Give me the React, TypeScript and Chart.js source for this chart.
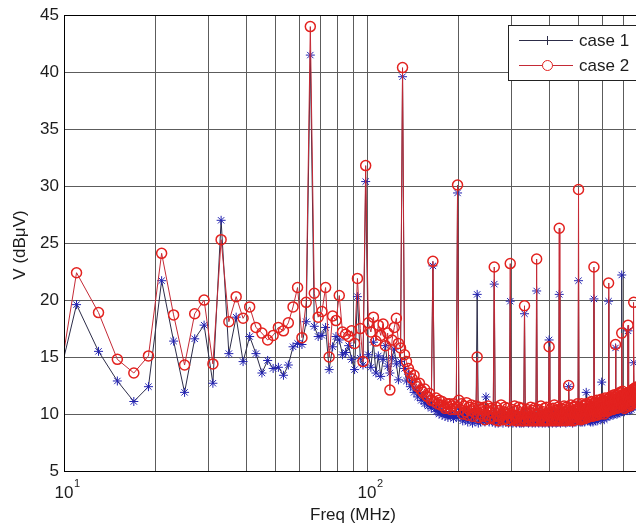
import React, { useEffect, useRef } from "react";
import { Chart, registerables } from "chart.js";

Chart.register(...registerables);

// Spectrum sampling grid (MHz): odd frequencies from 9 MHz upward in 2 MHz steps
const FREQ_START_MHZ = 9;
const FREQ_STEP_MHZ = 2;

// Measured level, case 1 (dBµV), one value per sampled frequency
const case1Db: number[] = [
  // 9 .. 33 MHz
  9.9, 19.6, 15.5, 12.9, 11.1, 12.4, 21.7, 16.4, 11.9, 16.6, 17.8, 12.7, 27.0,
  // 35 .. 99 MHz
  15.3, 18.5, 14.6, 16.8, 15.3, 13.6, 14.7, 14.0, 14.1, 13.4,
  14.3, 15.9, 16.2, 16.1, 18.1, 41.5, 17.7, 16.8, 16.9, 17.6,
  13.9, 15.9, 16.8, 16.5, 15.2, 15.4, 16.0, 14.8, 13.9, 20.3,
  14.9, 14.3, 30.4,
  // 101 .. 199 MHz
  15.2, 14.1, 16.3, 13.6, 15.1, 13.3, 14.8, 16.0, 14.2, 13.6,
  14.9, 15.7, 14.4, 13.0, 14.6, 39.6, 14.0, 12.9, 13.5, 12.4,
  12.8, 11.9, 12.2, 11.5, 11.9, 11.2, 11.5, 10.9, 11.3, 10.7,
  11.0, 10.5, 23.0, 10.6, 10.2, 10.5, 10.0, 10.3, 9.9, 10.2,
  9.8, 10.1, 9.7, 10.0, 9.8, 10.1, 9.6, 9.9, 9.7, 29.4,
  // 201 .. 785 MHz
  10.5, 9.7, 10.2, 9.4, 10.0, 9.5, 10.3, 9.3, 9.9, 9.6,
  10.0, 9.2, 9.8, 9.4, 10.1, 20.5, 9.2, 9.9, 9.3, 9.7,
  9.4, 10.0, 9.3, 11.5, 9.5, 10.1, 9.3, 9.8, 9.9, 9.3,
  9.9, 21.4, 9.2, 10.0, 9.4, 9.2, 9.8, 9.3, 10.1, 9.5,
  9.2, 9.7, 10.0, 9.3, 9.6, 9.9, 9.2, 9.7, 19.9, 9.3,
  9.8, 9.2, 9.5, 10.1, 9.3, 9.2, 9.8, 9.4, 10.0, 9.2,
  9.6, 9.2, 9.9, 9.3, 9.2, 18.8, 9.7, 9.3, 9.9, 9.3,
  9.2, 9.8, 9.3, 10.0, 9.4, 9.2, 9.8, 9.3, 9.9, 9.2,
  9.5, 20.8, 9.3, 9.9, 9.2, 9.7, 9.3, 10.1, 9.4, 9.2,
  9.8, 9.3, 9.9, 9.2, 9.5, 10.0, 9.3, 9.7, 9.2, 16.5,
  9.4, 9.9, 9.3, 9.8, 9.2, 9.9, 9.3, 10.2, 9.3, 9.6,
  9.2, 9.9, 9.3, 10.0, 9.3, 20.5, 9.7, 9.2, 9.9, 9.4,
  9.3, 9.9, 9.4, 10.1, 9.3, 9.8, 9.2, 10.0, 9.5, 9.3,
  9.9, 12.4, 9.3, 9.9, 9.3, 10.2, 9.4, 9.8, 9.2, 10.0,
  9.5, 9.3, 10.1, 9.6, 9.3, 9.9, 9.4, 10.3, 9.6, 21.7,
  9.7, 10.1, 9.3, 9.9, 9.3, 10.3, 9.5, 9.3, 10.1, 9.6,
  9.9, 9.3, 10.2, 9.6, 11.9, 9.8, 10.3, 9.4, 10.0, 9.5,
  10.0, 9.4, 10.3, 9.3, 9.8, 10.4, 9.4, 10.0, 9.3, 10.2,
  20.1, 9.5, 10.3, 9.4, 10.1, 9.6, 10.5, 9.4, 10.0, 10.3,
  9.6, 10.2, 10.5, 9.7, 10.3, 9.5, 10.6, 12.8, 9.8, 10.4,
  9.7, 10.5, 10.0, 9.5, 10.4, 10.7, 9.8, 10.3, 10.1, 9.7,
  10.6, 9.9, 10.4, 19.9, 9.8, 10.7, 10.2, 10.8, 9.9, 10.4,
  10.6, 10.0, 10.9, 10.2, 9.9, 10.8, 10.2, 11.0, 10.0, 10.5,
  15.8, 10.1, 10.9, 10.3, 10.0, 11.0, 10.5, 10.1, 11.1, 10.3,
  10.8, 10.1, 11.1, 10.4, 10.9, 10.2, 22.2, 10.7, 11.2, 10.3,
  10.9, 11.2, 10.4, 10.2, 11.1, 10.6, 11.3, 10.8, 10.3, 11.2,
  10.7, 11.3, 10.3, 17.3, 10.9, 11.4, 10.5, 11.1, 10.3, 11.4,
  10.8, 11.5, 10.4, 11.2, 11.6, 10.6, 11.4, 10.9, 11.7, 14.5,
  11.0, 11.6, 10.7, 11.8, 11.2, 11.7, 10.8, 11.6, 11.3, 11.9,
  11.1, 11.8, 11.4,
];

// Measured level, case 2 (dBµV)
const case2Db: number[] = [
  // 9 .. 33 MHz
  8.0, 22.4, 18.9, 14.8, 13.6, 15.1, 24.1, 18.7, 14.3, 18.8, 20.0, 14.4, 25.3,
  // 35 .. 99 MHz
  18.1, 20.3, 18.4, 19.4, 17.6, 17.1, 16.5, 16.9, 17.6, 17.3,
  18.0, 19.4, 21.1, 16.7, 19.8, 44.0, 20.6, 18.5, 19.0, 21.1,
  15.0, 18.6, 18.2, 20.4, 17.2, 17.0, 16.8, 17.3, 16.2, 21.9,
  17.5, 14.6, 31.8,
  // 101 .. 199 MHz
  18.0, 17.2, 18.5, 16.4, 17.8, 16.9, 17.9, 16.0, 17.1, 12.1,
  16.5, 17.6, 18.4, 16.2, 15.8, 40.4, 15.2, 14.6, 14.0, 13.6,
  13.1, 13.4, 12.7, 12.4, 12.7, 12.1, 11.9, 12.2, 11.6, 11.5,
  11.8, 11.2, 23.4, 11.1, 11.4, 10.9, 11.2, 10.8, 11.1, 10.7,
  10.5, 10.9, 10.6, 10.9, 10.4, 10.7, 10.9, 10.4, 10.6, 30.1,
  // 201 .. 785 MHz
  11.2, 10.4, 10.9, 10.0, 10.7, 10.2, 11.0, 9.9, 10.6, 10.3,
  10.8, 9.8, 10.5, 10.1, 10.7, 15.0, 9.7, 10.6, 10.0, 10.4,
  9.8, 10.6, 9.5, 10.3, 9.9, 10.7, 9.6, 10.2, 10.5, 9.7,
  10.4, 22.9, 9.5, 10.6, 9.8, 9.4, 10.3, 9.7, 10.8, 9.9,
  9.5, 10.2, 10.6, 9.6, 10.0, 10.5, 9.4, 10.1, 23.2, 9.6,
  10.4, 9.5, 9.9, 10.7, 9.6, 9.4, 10.3, 9.8, 10.6, 9.5,
  10.0, 9.4, 10.5, 9.7, 9.4, 19.5, 10.1, 9.5, 10.4, 9.7,
  9.4, 10.2, 9.6, 10.6, 9.8, 9.4, 10.3, 9.5, 10.5, 9.4,
  9.9, 23.6, 9.5, 10.4, 9.4, 10.1, 9.6, 10.7, 9.8, 9.4,
  10.2, 9.5, 10.5, 9.4, 9.9, 10.6, 9.5, 10.1, 9.4, 15.9,
  9.8, 10.4, 9.5, 10.2, 9.4, 10.5, 9.7, 10.8, 9.5, 10.0,
  9.4, 10.3, 9.7, 10.6, 9.5, 26.3, 10.1, 9.4, 10.5, 9.8,
  9.5, 10.4, 9.8, 10.7, 9.5, 10.2, 9.4, 10.6, 9.9, 9.5,
  10.3, 12.5, 9.6, 10.5, 9.5, 10.8, 9.7, 10.2, 9.4, 10.6,
  9.8, 9.5, 10.7, 10.0, 9.5, 10.4, 9.7, 10.9, 9.9, 29.7,
  10.1, 10.6, 9.6, 10.4, 9.5, 10.9, 9.8, 9.6, 10.7, 10.0,
  10.4, 9.6, 10.8, 9.9, 10.9, 10.2, 10.9, 9.7, 10.5, 9.8,
  10.7, 10.0, 11.0, 9.8, 10.4, 11.1, 9.9, 10.6, 9.8, 10.9,
  22.9, 10.1, 11.0, 9.9, 10.8, 10.2, 11.2, 9.9, 10.6, 11.0,
  10.1, 10.8, 11.2, 10.2, 10.9, 10.0, 11.3, 11.0, 10.3, 11.1,
  10.2, 11.2, 10.6, 10.0, 11.1, 11.4, 10.3, 11.0, 10.7, 10.2,
  11.3, 10.4, 11.0, 21.5, 10.3, 11.4, 10.8, 11.5, 10.4, 11.1,
  11.3, 10.5, 11.6, 10.9, 10.4, 11.5, 10.8, 11.7, 10.5, 11.2,
  16.1, 10.7, 11.6, 11.0, 10.5, 11.7, 11.2, 10.6, 11.8, 10.9,
  11.5, 10.6, 11.9, 11.1, 11.6, 10.8, 17.1, 11.4, 12.0, 10.9,
  11.3, 11.7, 10.8, 10.5, 11.6, 11.0, 11.8, 11.2, 10.6, 11.7,
  11.1, 11.8, 10.7, 17.8, 11.3, 11.9, 10.9, 11.6, 10.7, 11.9,
  11.2, 12.0, 10.8, 11.7, 12.1, 11.0, 11.9, 11.3, 12.2, 19.8,
  11.4, 12.1, 11.1, 12.3, 11.6, 12.2, 11.2, 12.1, 11.8, 12.4,
  11.5, 12.3, 11.9,
];

// Axis gridlines / labels
const xGridMHz: number[] = [
  10, 20, 30, 40, 50, 60, 70, 80, 90,
  100, 200, 300, 400, 500, 600, 700, 800, 900, 1000,
];
const xLabelExponents: number[] = [1, 2, 3];
const seriesNames: string[] = ["case 1", "case 2"];

const FONT = '"Liberation Sans", Arial, Helvetica, sans-serif';
const TEXT = "#1c1c1c";
const GRID = "#5c5c5c";
const CASE1_LINE = "#2c2c48";
const CASE1_MARK = "#2222b0";
const CASE2_LINE = "#c42a36";
const CASE2_MARK = "#e3221f";

const toPoints = (vals: number[]) =>
  vals.map((y, i) => ({ x: FREQ_START_MHZ + i * FREQ_STEP_MHZ, y }));

const decorPlugin = {
  id: "decor",
  afterDraw(chart: any) {
    const { ctx, chartArea: a } = chart;
    const xs = chart.scales.x;
    ctx.save();

    // axes box
    ctx.strokeStyle = "#000";
    ctx.lineWidth = 1;
    ctx.strokeRect(
      Math.round(a.left) + 0.5,
      Math.round(a.top) + 0.5,
      Math.round(a.right - a.left),
      Math.round(a.bottom - a.top)
    );

    // decade labels 10^n
    ctx.fillStyle = TEXT;
    for (const e of xLabelExponents) {
      const px = xs.getPixelForValue(Math.pow(10, e));
      ctx.font = `17px ${FONT}`;
      ctx.textAlign = "center";
      ctx.textBaseline = "alphabetic";
      ctx.fillText("10", px, 498);
      ctx.font = `11px ${FONT}`;
      ctx.textAlign = "left";
      ctx.fillText(String(e), px + 10, 487);
    }

    // axis titles
    ctx.font = `17px ${FONT}`;
    ctx.textAlign = "center";
    ctx.textBaseline = "middle";
    ctx.fillText("Freq (MHz)", 353, 515);
    ctx.save();
    ctx.translate(20, 245);
    ctx.rotate(-Math.PI / 2);
    ctx.fillText("V (dBμV)", 0, 0);
    ctx.restore();

    // legend box
    const lx = 508.5;
    const ly = 25.5;
    ctx.fillStyle = "#fff";
    ctx.fillRect(lx, ly, 200, 55);
    ctx.strokeStyle = "#222";
    ctx.strokeRect(lx, ly, 200, 55);

    const rows = [
      { y: 40.5, line: CASE1_LINE, mark: "plus" },
      { y: 65.5, line: CASE2_LINE, mark: "circle" },
    ];
    rows.forEach((r, i) => {
      ctx.strokeStyle = r.line;
      ctx.lineWidth = 1;
      ctx.beginPath();
      ctx.moveTo(519, r.y);
      ctx.lineTo(573, r.y);
      ctx.stroke();
      if (r.mark === "plus") {
        ctx.beginPath();
        ctx.moveTo(547.5, r.y - 4.5);
        ctx.lineTo(547.5, r.y + 4.5);
        ctx.moveTo(543, r.y);
        ctx.lineTo(552, r.y);
        ctx.stroke();
      } else {
        ctx.strokeStyle = CASE2_MARK;
        ctx.fillStyle = "#fff";
        ctx.beginPath();
        ctx.arc(547.5, r.y, 5, 0, Math.PI * 2);
        ctx.fill();
        ctx.stroke();
      }
      ctx.fillStyle = TEXT;
      ctx.font = `17px ${FONT}`;
      ctx.textAlign = "left";
      ctx.textBaseline = "middle";
      ctx.fillText(seriesNames[i], 579, r.y + 1);
    });

    ctx.restore();
  },
};

export default function App() {
  const canvasRef = useRef<HTMLCanvasElement | null>(null);

  useEffect(() => {
    const canvas = canvasRef.current;
    if (!canvas) return;
    const chart = new Chart(canvas, {
      type: "line",
      data: {
        datasets: [
          {
            label: seriesNames[0],
            data: toPoints(case1Db),
            borderColor: CASE1_LINE,
            borderWidth: 1,
            pointStyle: "star",
            pointRadius: 4.5,
            pointBorderColor: CASE1_MARK,
            pointBackgroundColor: "transparent",
            pointBorderWidth: 1,
            tension: 0,
            order: 2,
          },
          {
            label: seriesNames[1],
            data: toPoints(case2Db),
            borderColor: CASE2_LINE,
            borderWidth: 1,
            pointStyle: "circle",
            pointRadius: 5,
            pointBorderColor: CASE2_MARK,
            pointBackgroundColor: "transparent",
            pointBorderWidth: 1.5,
            tension: 0,
            order: 1,
          },
        ],
      },
      options: {
        responsive: false,
        animation: false,
        devicePixelRatio: 1,
        events: [],
        layout: { padding: { left: 0, top: 15, right: 10, bottom: 0 } },
        scales: {
          x: {
            type: "logarithmic",
            min: 10,
            max: 1000,
            afterBuildTicks: (s: any) => {
              s.ticks = xGridMHz.map((v) => ({ value: v }));
            },
            afterFit: (s: any) => {
              s.height = 56;
            },
            ticks: { display: false },
            grid: { color: GRID, lineWidth: 1, drawTicks: false },
            border: { display: true, color: "#000", width: 1 },
          },
          y: {
            type: "linear",
            min: 5,
            max: 45,
            ticks: {
              stepSize: 5,
              padding: 5,
              color: TEXT,
              font: { family: FONT, size: 17 },
            },
            afterFit: (s: any) => {
              s.width = 64;
            },
            grid: { color: GRID, lineWidth: 1, drawTicks: false },
            border: { display: true, color: "#000", width: 1 },
          },
        },
        plugins: {
          legend: { display: false },
          tooltip: { enabled: false },
        },
      },
      plugins: [decorPlugin],
    } as any);
    return () => chart.destroy();
  }, []);

  return (
    <div
      style={{
        position: "fixed",
        left: 0,
        top: 0,
        width: 636,
        height: 527,
        overflow: "hidden",
        background: "#fff",
      }}
    >
      <canvas
        ref={canvasRef}
        width={680}
        height={527}
        style={{ display: "block", width: 680, height: 527 }}
      />
    </div>
  );
}
